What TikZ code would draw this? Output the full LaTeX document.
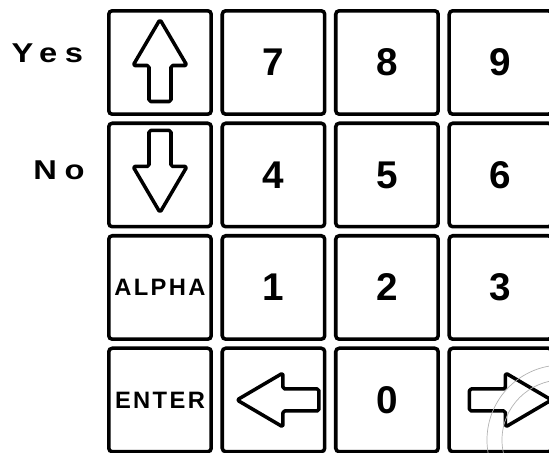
\documentclass[tikz,border=0pt]{standalone}
\usepackage{fontspec}
\setmainfont{Liberation Sans}
\newfontfamily\wordfont{Liberation Sans}[LetterSpace=10]
\newfontfamily\sidefont{Liberation Sans}[LetterSpace=28, FakeStretch=1.2]
\usetikzlibrary{positioning}

% block arrow drawn inside a key: node, offset, rotation
\newcommand{\keyarrow}[3]{%
  \draw[arrowline, shift={(#1)}, shift={#2}, rotate=#3]
    (0,-41) -- (27,5) -- (11,5) -- (11,41) -- (-11,41) -- (-11,5) -- (-27,5) -- cycle;}

\begin{document}
\begin{tikzpicture}[x=0.02cm, y=-0.02cm,
    node distance=0.11cm and 0.15cm,
    keybox/.style={rectangle, rounded corners=2pt, draw=black, line width=2pt, minimum width=2.05cm, minimum height=2.07cm, inner sep=0pt, text centered, font=\bfseries\fontsize{22}{22}\selectfont},
    wordkey/.style={keybox, font=\wordfont\bfseries\fontsize{13.5}{13.5}\selectfont},
    sidelabel/.style={inner sep=0pt, font=\sidefont\bfseries\fontsize{15.5}{15.5}\selectfont},
    arrowline/.style={draw=black, line width=2pt, rounded corners=1pt, line join=round}
    ]
    \useasboundingbox (0,0) rectangle (549,453);
    \clip (0,0) rectangle (549,453);

    % Left column
    \node (up) [keybox] at (160,62.5) {};
    \node (down) [keybox, below=of up] {};
    \node (alpha) [wordkey, below=of down] {ALPHA};
    \node (enter) [wordkey, below=of alpha] {ENTER};

    % Number keys
    \node (k7) [keybox, right=of up] {7};
    \node (k8) [keybox, right=of k7] {8};
    \node (k9) [keybox, right=of k8] {9};
    \node (k4) [keybox, right=of down] {4};
    \node (k5) [keybox, right=of k4] {5};
    \node (k6) [keybox, right=of k5] {6};
    \node (k1) [keybox, right=of alpha] {1};
    \node (k2) [keybox, right=of k1] {2};
    \node (k3) [keybox, right=of k2] {3};
    \node (left) [keybox, right=of enter] {};
    \node (k0) [keybox, right=of left] {0};
    \node (right) [keybox, right=of k0] {};

    % Arrows on the keys
    \keyarrow{up}{(0,-2)}{0}
    \keyarrow{down}{(0,-3.5)}{180}
    \keyarrow{left}{(4.5,0)}{90}
    \keyarrow{right}{(10,0)}{-90}

    % Labels
    \node (yes) [sidelabel, left=0.47cm of up, yshift=0.19cm] {Yes};
    \node (no) [sidelabel, left=0.44cm of down, yshift=0.1cm] {No};

    % scan marks
    \draw[gray!60, line width=0.4pt] (562,440) circle (75);
    \draw[gray!60, line width=0.4pt] (562,440) circle (60);
\end{tikzpicture}
\end{document}
